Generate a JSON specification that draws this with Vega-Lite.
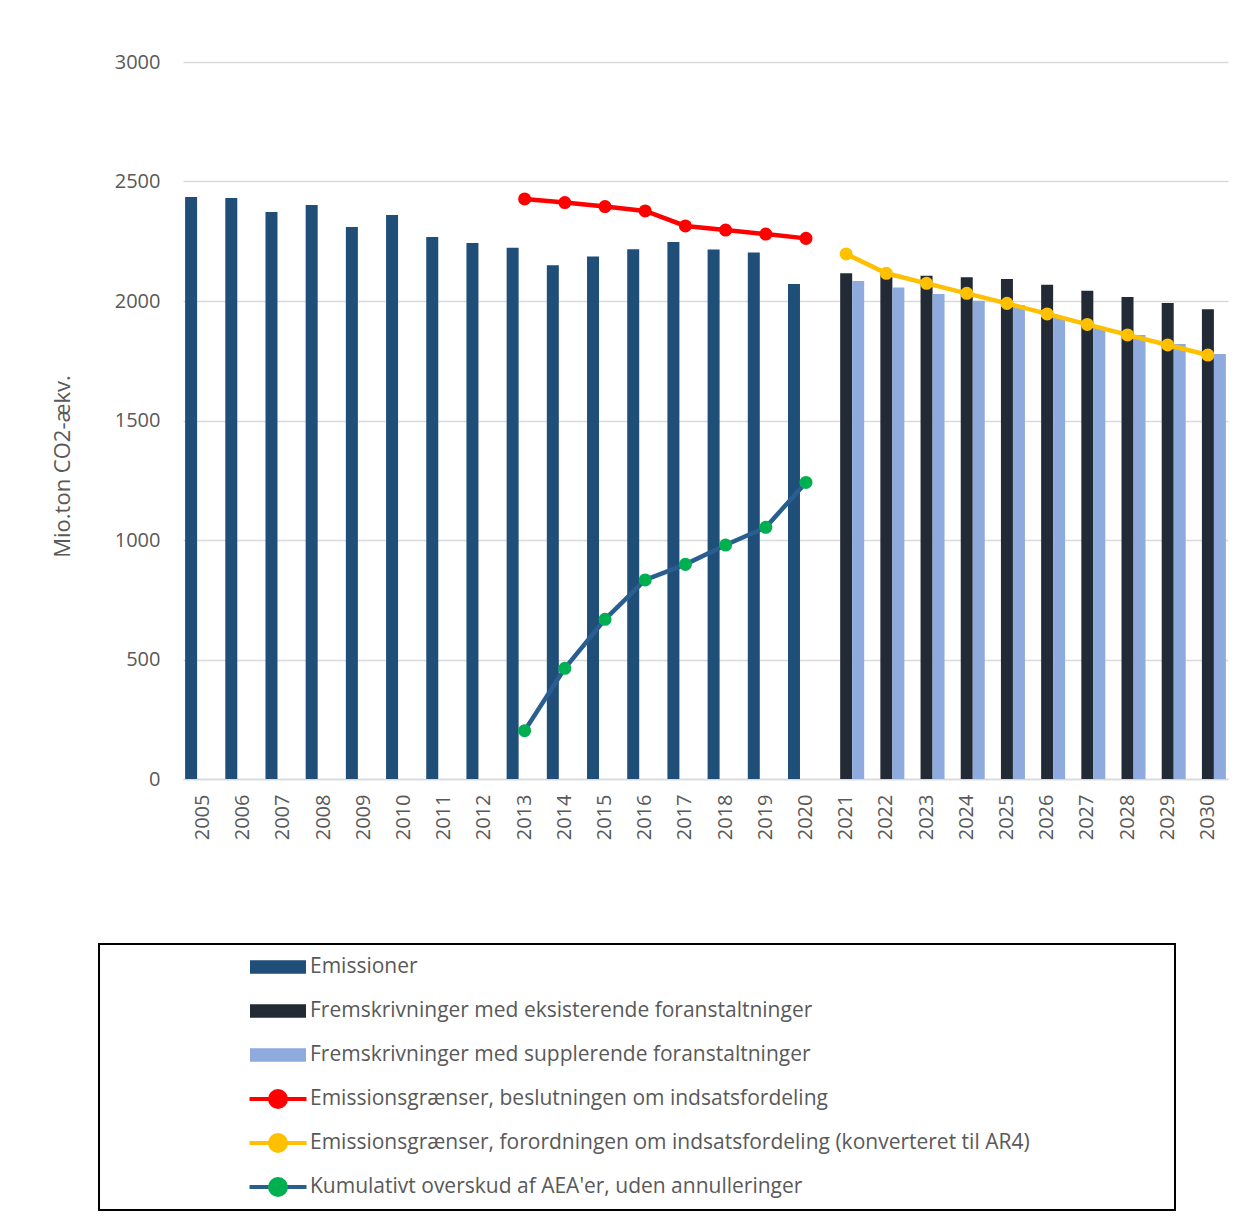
{
  "$schema": "https://vega.github.io/schema/vega-lite/v6.json",
  "width": 1045,
  "height": 717,
  "autosize": {"type": "none"},
  "padding": {"left": 183, "top": 62, "right": 21, "bottom": 437},
  "background": "#ffffff",
  "config": {"font": "Open Sans", "view": {"stroke": null}},
  "datasets": {
    "bars": [
      {"year": "2005", "series": "Emissioner", "value": 2435},
      {"year": "2006", "series": "Emissioner", "value": 2431},
      {"year": "2007", "series": "Emissioner", "value": 2372},
      {"year": "2008", "series": "Emissioner", "value": 2402},
      {"year": "2009", "series": "Emissioner", "value": 2310},
      {"year": "2010", "series": "Emissioner", "value": 2360},
      {"year": "2011", "series": "Emissioner", "value": 2268},
      {"year": "2012", "series": "Emissioner", "value": 2243},
      {"year": "2013", "series": "Emissioner", "value": 2223},
      {"year": "2014", "series": "Emissioner", "value": 2150},
      {"year": "2015", "series": "Emissioner", "value": 2186},
      {"year": "2016", "series": "Emissioner", "value": 2217},
      {"year": "2017", "series": "Emissioner", "value": 2247},
      {"year": "2018", "series": "Emissioner", "value": 2215},
      {"year": "2019", "series": "Emissioner", "value": 2203},
      {"year": "2020", "series": "Emissioner", "value": 2071},
      {"year": "2021", "series": "Fremskrivninger med eksisterende foranstaltninger", "value": 2116},
      {"year": "2022", "series": "Fremskrivninger med eksisterende foranstaltninger", "value": 2110},
      {"year": "2023", "series": "Fremskrivninger med eksisterende foranstaltninger", "value": 2106},
      {"year": "2024", "series": "Fremskrivninger med eksisterende foranstaltninger", "value": 2099},
      {"year": "2025", "series": "Fremskrivninger med eksisterende foranstaltninger", "value": 2092},
      {"year": "2026", "series": "Fremskrivninger med eksisterende foranstaltninger", "value": 2068},
      {"year": "2027", "series": "Fremskrivninger med eksisterende foranstaltninger", "value": 2043},
      {"year": "2028", "series": "Fremskrivninger med eksisterende foranstaltninger", "value": 2017},
      {"year": "2029", "series": "Fremskrivninger med eksisterende foranstaltninger", "value": 1992},
      {"year": "2030", "series": "Fremskrivninger med eksisterende foranstaltninger", "value": 1965},
      {"year": "2021", "series": "Fremskrivninger med supplerende foranstaltninger", "value": 2084},
      {"year": "2022", "series": "Fremskrivninger med supplerende foranstaltninger", "value": 2057},
      {"year": "2023", "series": "Fremskrivninger med supplerende foranstaltninger", "value": 2029},
      {"year": "2024", "series": "Fremskrivninger med supplerende foranstaltninger", "value": 2001},
      {"year": "2025", "series": "Fremskrivninger med supplerende foranstaltninger", "value": 1983},
      {"year": "2026", "series": "Fremskrivninger med supplerende foranstaltninger", "value": 1934},
      {"year": "2027", "series": "Fremskrivninger med supplerende foranstaltninger", "value": 1892},
      {"year": "2028", "series": "Fremskrivninger med supplerende foranstaltninger", "value": 1858},
      {"year": "2029", "series": "Fremskrivninger med supplerende foranstaltninger", "value": 1820},
      {"year": "2030", "series": "Fremskrivninger med supplerende foranstaltninger", "value": 1778}
    ],
    "lines": [
      {"year": "2013", "series": "Emissionsgrænser, beslutningen om indsatsfordeling", "value": 2427},
      {"year": "2014", "series": "Emissionsgrænser, beslutningen om indsatsfordeling", "value": 2412},
      {"year": "2015", "series": "Emissionsgrænser, beslutningen om indsatsfordeling", "value": 2395},
      {"year": "2016", "series": "Emissionsgrænser, beslutningen om indsatsfordeling", "value": 2377},
      {"year": "2017", "series": "Emissionsgrænser, beslutningen om indsatsfordeling", "value": 2314},
      {"year": "2018", "series": "Emissionsgrænser, beslutningen om indsatsfordeling", "value": 2297},
      {"year": "2019", "series": "Emissionsgrænser, beslutningen om indsatsfordeling", "value": 2280},
      {"year": "2020", "series": "Emissionsgrænser, beslutningen om indsatsfordeling", "value": 2262},
      {"year": "2021", "series": "Emissionsgrænser, forordningen om indsatsfordeling (konverteret til AR4)", "value": 2197},
      {"year": "2022", "series": "Emissionsgrænser, forordningen om indsatsfordeling (konverteret til AR4)", "value": 2116},
      {"year": "2023", "series": "Emissionsgrænser, forordningen om indsatsfordeling (konverteret til AR4)", "value": 2074},
      {"year": "2024", "series": "Emissionsgrænser, forordningen om indsatsfordeling (konverteret til AR4)", "value": 2032},
      {"year": "2025", "series": "Emissionsgrænser, forordningen om indsatsfordeling (konverteret til AR4)", "value": 1990},
      {"year": "2026", "series": "Emissionsgrænser, forordningen om indsatsfordeling (konverteret til AR4)", "value": 1946},
      {"year": "2027", "series": "Emissionsgrænser, forordningen om indsatsfordeling (konverteret til AR4)", "value": 1902},
      {"year": "2028", "series": "Emissionsgrænser, forordningen om indsatsfordeling (konverteret til AR4)", "value": 1858},
      {"year": "2029", "series": "Emissionsgrænser, forordningen om indsatsfordeling (konverteret til AR4)", "value": 1816},
      {"year": "2030", "series": "Emissionsgrænser, forordningen om indsatsfordeling (konverteret til AR4)", "value": 1774},
      {"year": "2013", "series": "Kumulativt overskud af AEA'er, uden annulleringer", "value": 202},
      {"year": "2014", "series": "Kumulativt overskud af AEA'er, uden annulleringer", "value": 463},
      {"year": "2015", "series": "Kumulativt overskud af AEA'er, uden annulleringer", "value": 668},
      {"year": "2016", "series": "Kumulativt overskud af AEA'er, uden annulleringer", "value": 833},
      {"year": "2017", "series": "Kumulativt overskud af AEA'er, uden annulleringer", "value": 898},
      {"year": "2018", "series": "Kumulativt overskud af AEA'er, uden annulleringer", "value": 979},
      {"year": "2019", "series": "Kumulativt overskud af AEA'er, uden annulleringer", "value": 1053},
      {"year": "2020", "series": "Kumulativt overskud af AEA'er, uden annulleringer", "value": 1241}
    ]
  },
  "encoding": {
    "x": {
      "field": "year",
      "type": "ordinal",
      "scale": {"paddingInner": 0.1045, "paddingOuter": 0.0523},
      "axis": {
        "title": null,
        "labelAngle": -90,
        "labelFont": "Open Sans",
        "labelFontSize": 20,
        "labelColor": "#595959",
        "labelPadding": 15,
        "ticks": false,
        "tickSize": 0,
        "domainColor": "#D9D9D9",
        "domainWidth": 1.5,
        "grid": false
      }
    },
    "y": {
      "field": "value",
      "type": "quantitative",
      "scale": {"domain": [0, 3000], "nice": false},
      "axis": {
        "title": "Mio.ton CO2-ækv.",
        "values": [0, 500, 1000, 1500, 2000, 2500, 3000],
        "format": "d",
        "grid": true,
        "gridColor": "#D9D9D9",
        "gridWidth": 1.5,
        "domain": false,
        "ticks": false,
        "tickSize": 0,
        "labelPadding": 23,
        "labelFont": "Open Sans",
        "labelFontSize": 20,
        "labelColor": "#595959",
        "titleFont": "Open Sans",
        "titleFontSize": 22,
        "titleFontWeight": "normal",
        "titleColor": "#595959",
        "titleX": -121,
        "titleY": 404,
        "titleAngle": -90,
        "titleAlign": "center",
        "titleBaseline": "middle"
      }
    }
  },
  "layer": [
    {
      "data": {"name": "bars"},
      "mark": {"type": "bar"},
      "encoding": {
        "xOffset": {
          "field": "series",
          "type": "nominal",
          "scale": {
            "domain": ["Emissioner", "Fremskrivninger med eksisterende foranstaltninger", "Fremskrivninger med supplerende foranstaltninger"],
            "paddingInner": 0,
            "paddingOuter": 0
          }
        },
        "color": {
          "field": "series",
          "type": "nominal",
          "scale": {
            "domain": [
              "Emissioner",
              "Fremskrivninger med eksisterende foranstaltninger",
              "Fremskrivninger med supplerende foranstaltninger",
              "Emissionsgrænser, beslutningen om indsatsfordeling",
              "Emissionsgrænser, forordningen om indsatsfordeling (konverteret til AR4)",
              "Kumulativt overskud af AEA'er, uden annulleringer"
            ],
            "range": ["#1F4E79", "#222A35", "#8FAADC", "#FF0000", "#FFC000", "#2A5E91"]
          },
          "legend": {
            "orient": "none",
            "legendX": -84,
            "legendY": 882,
            "direction": "vertical",
            "title": ".",
            "titleOrient": "right",
            "titleColor": "transparent",
            "titleFontSize": 21,
            "titlePadding": 128,
            "padding": 11,
            "strokeColor": "#000000",
            "symbolSize": 400,
            "symbolStrokeWidth": 4,
            "clipHeight": 24,
            "rowPadding": 20,
            "symbolOffset": 156,
            "labelOffset": 20,
            "labelFont": "Open Sans",
            "labelFontSize": 21,
            "labelColor": "#595959",
            "labelLimit": 2000,
            "zindex": 0,
            "encode": {
              "legend": {"update": {"strokeWidth": {"value": 2}}},
              "symbols": {
                "update": {
                  "shape": {"signal": "(datum.value == 'Emissioner' || indexof(datum.value, 'Frem') == 0) ? 'M-2.6,-0.48H2.6V0.48H-2.6Z' : 'M-2.85,0H2.85'"},
                  "fill": {"signal": "(datum.value == 'Emissioner' || indexof(datum.value, 'Frem') == 0) ? scale('color', datum.value) : 'transparent'"},
                  "stroke": {"signal": "(datum.value == 'Emissioner' || indexof(datum.value, 'Frem') == 0) ? 'transparent' : scale('color', datum.value)"},
                  "opacity": {"value": 1},
                  "fillOpacity": {"value": 1},
                  "strokeOpacity": {"value": 1}
                }
              }
            }
          }
        }
      }
    },
    {
      "data": {"name": "lines"},
      "mark": {"type": "line", "strokeWidth": 4.5},
      "encoding": {
        "color": {"field": "series", "type": "nominal"}
      }
    },
    {
      "data": {"name": "lines"},
      "mark": {"type": "circle", "size": 170, "opacity": 1},
      "encoding": {
        "fill": {
          "field": "series",
          "type": "nominal",
          "scale": {
            "domain": [
              "x1",
              "x2",
              "x3",
              "Emissionsgrænser, beslutningen om indsatsfordeling",
              "Emissionsgrænser, forordningen om indsatsfordeling (konverteret til AR4)",
              "Kumulativt overskud af AEA'er, uden annulleringer"
            ],
            "range": ["transparent", "transparent", "transparent", "#FF0000", "#FFC000", "#00B050"]
          },
          "legend": {
            "orient": "none",
            "legendX": -84,
            "legendY": 882,
            "direction": "vertical",
            "title": null,
            "padding": 11,
            "symbolSize": 400,
            "symbolStrokeWidth": 4,
            "clipHeight": 24,
            "rowPadding": 20,
            "symbolOffset": 156,
            "labelOffset": 20,
            "labelFont": "Open Sans",
            "labelFontSize": 21,
            "labelColor": "transparent",
            "labelExpr": "''",
            "labelLimit": 2000,
            "zindex": 1,
            "encode": {
              "symbols": {
                "update": {
                  "shape": {"value": "M-0.55,0A0.55,0.55 0 1,0 0.55,0A0.55,0.55 0 1,0 -0.55,0Z"},
                  "stroke": {"value": "transparent"},
                  "opacity": {"value": 1},
                  "fillOpacity": {"value": 1}
                }
              }
            }
          }
        }
      }
    }
  ]
}
